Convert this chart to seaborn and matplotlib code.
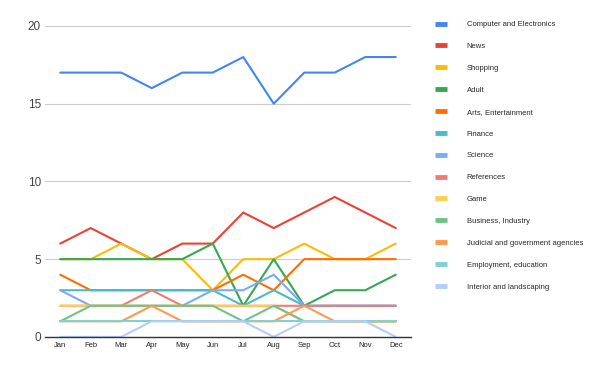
import numpy as np
import pandas as pd
import matplotlib
matplotlib.use("Agg")
import matplotlib.pyplot as plt
from matplotlib.lines import Line2D
import seaborn as sns

# Data
months = ["Jan", "Feb", "Mar", "Apr", "May", "Jun",
          "Jul", "Aug", "Sep", "Oct", "Nov", "Dec"]
categories = [
    "Computer and Electronics", "News", "Shopping", "Adult",
    "Arts, Entertainment", "Finance", "Science", "References", "Game",
    "Business, Industry", "Judicial and government agencies",
    "Employment, education", "Interior and landscaping",
]
computer = [17, 17, 17, 16, 17, 17, 18, 15, 17, 17, 18, 18]
news = [6, 7, 6, 5, 6, 6, 8, 7, 8, 9, 8, 7]
shopping = [5, 5, 6, 5, 5, 3, 5, 5, 6, 5, 5, 6]
adult = [5, 5, 5, 5, 5, 6, 2, 5, 2, 3, 3, 4]
arts = [4, 3, 3, 3, 3, 3, 4, 3, 5, 5, 5, 5]
finance = [3, 3, 3, 3, 3, 3, 2, 3, 2, 2, 2, 2]
science = [3, 2, 2, 2, 2, 3, 3, 4, 2, 2, 2, 2]
references = [2, 2, 2, 3, 2, 2, 2, 2, 2, 2, 2, 2]
game = [2, 2, 2, 2, 2, 2, 2, 2, 1, 1, 1, 1]
business = [1, 2, 2, 2, 2, 2, 1, 2, 1, 1, 1, 1]
judicial = [1, 1, 1, 2, 1, 1, 1, 1, 2, 1, 1, 1]
employment = [1, 1, 1, 1, 1, 1, 1, 1, 1, 1, 1, 1]
interior = [0, 0, 0, 1, 1, 1, 1, 0, 1, 1, 1, 0]

series = [computer, news, shopping, adult, arts, finance, science,
          references, game, business, judicial, employment, interior]

colors = ["#4285f4", "#ea4335", "#fbbc04", "#34a853", "#ff6d01", "#46bdc6",
          "#7baaf7", "#f07b72", "#fcd04f", "#71c287", "#ff994d", "#7ed1d7",
          "#b3cefb"]

rows = []
for cat, vals in zip(categories, series):
    for i, v in enumerate(vals):
        rows.append({"month": i, "value": v, "category": cat})
df = pd.DataFrame(rows)

sns.set_style("white")
plt.rcParams["font.family"] = ["Liberation Sans", "DejaVu Sans"]

fig = plt.figure(figsize=(6, 3.71), dpi=100)
ax = fig.add_axes([0.075, 0.092, 0.61, 0.838])

sns.lineplot(data=df, x="month", y="value", hue="category",
             hue_order=categories, palette=colors, linewidth=1.5,
             legend=False, sort=False, ax=ax)

ax.set_xlim(-0.5, 11.5)
ax.set_ylim(0, 20)
ax.set_yticks([0, 5, 10, 15, 20])
ax.set_xticks(range(12))
ax.set_xticklabels(months, fontsize=5.5)
ax.tick_params(axis="y", labelsize=8.5, colors="#444444", length=0, pad=3)
ax.tick_params(axis="x", length=0, pad=4, colors="#222222")
ax.grid(axis="y", color="#cccccc", linewidth=0.8)
ax.set_axisbelow(True)
for s in ["top", "right", "left"]:
    ax.spines[s].set_visible(False)
ax.spines["bottom"].set_color("#333333")
ax.spines["bottom"].set_linewidth(1)
ax.set_xlabel("")
ax.set_ylabel("")

handles = [Line2D([0], [0], color=c, linewidth=3.5, solid_capstyle="butt")
           for c in colors]
fig.legend(handles, categories, loc="upper left",
           bbox_to_anchor=(0.72, 0.952), frameon=False, fontsize=5.5,
           handlelength=1.5, handletextpad=2.65, labelspacing=1.9,
           borderaxespad=0)

fig.savefig("out.png", dpi=100)
